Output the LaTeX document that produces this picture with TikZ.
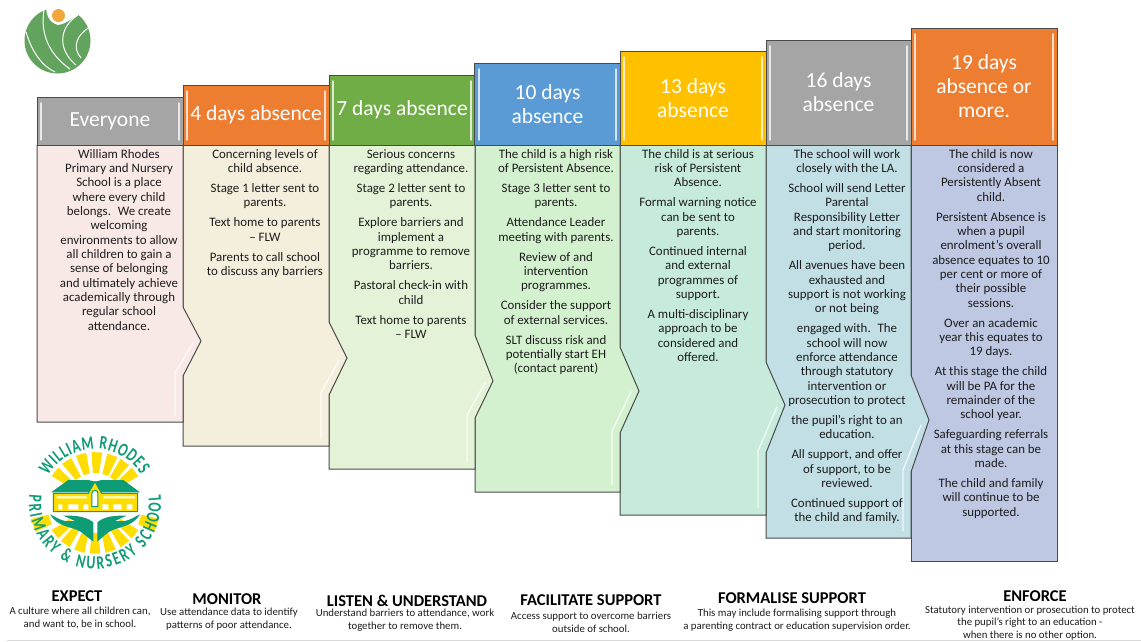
\documentclass[tikz,border=0pt]{standalone}
\usepackage{fontspec}
\setmainfont{Carlito}
\newfontfamily\badgefont[FakeStretch=0.72]{Carlito}
\usetikzlibrary{decorations.text}
\newcommand{\pgap}{\\[5.7pt]}
\tikzset{
  headbox/.style={draw=cedge,line width=1pt,minimum width=146pt,inner sep=0pt,text=white,align=center,font=\fontsize{21.5}{24}\selectfont},
  bodybox/.style={draw=cedge,line width=1pt,line join=miter},
  bevel/.style={white,line width=1.4pt,opacity=0.75,line cap=round,line join=round},
  bodytext/.style={anchor=north,inner sep=0pt,align=center,text=ctext,font=\fontsize{12.9}{14.33}\selectfont},
  foottitle/.style={inner sep=0pt,align=center,text=black,font=\bfseries\fontsize{16.5}{18}\selectfont},
  footsub/.style={inner sep=0pt,align=center,text=ctext,font=\fontsize{10.8}{12.7}\selectfont},
  badgeray/.style={fill=cray},
}
\begin{document}
\begin{tikzpicture}[x=1pt,y=-1pt]
%
\useasboundingbox (0,0) rectangle (1141,641);
%
\definecolor{cedge}{HTML}{4A4A4A}
\definecolor{ctext}{HTML}{1C1C1C}
\definecolor{ch0}{HTML}{A5A5A5}
\definecolor{ch1}{HTML}{ED7D31}
\definecolor{ch2}{HTML}{70AD47}
\definecolor{ch3}{HTML}{5B9BD5}
\definecolor{ch4}{HTML}{FFC000}
\definecolor{ch5}{HTML}{A5A5A5}
\definecolor{ch6}{HTML}{ED7D31}
\definecolor{cb0}{HTML}{F9E9E6}
\definecolor{cb1}{HTML}{F4EFDC}
\definecolor{cb2}{HTML}{E4F3D8}
\definecolor{cb3}{HTML}{D3F1CF}
\definecolor{cb4}{HTML}{C6EBDA}
\definecolor{cb5}{HTML}{C2DFE6}
\definecolor{cb6}{HTML}{BEC8E3}
\definecolor{cleaf}{HTML}{62A35E}
\definecolor{cdot}{HTML}{F2A73B}
\definecolor{cgreen}{HTML}{0E9C77}
\definecolor{cray}{HTML}{FFDD00}
%
% bodies, last one first so that each point lies over the next column
\draw[bodybox,fill=cb6] (911,145) -- (1057,145) -- (1057,561) -- (911,561) -- cycle;
\draw[bodybox,fill=cb5] (766,145) -- (911,145) -- (911,375) -- (929,420) -- (911,472) -- (911,538) -- (766,538) -- cycle;
\draw[bodybox,fill=cb4] (620,145) -- (766,145) -- (766,362) -- (785,405) -- (766,453) -- (766,515) -- (620,515) -- cycle;
\draw[bodybox,fill=cb3] (475,145) -- (620,145) -- (620,347) -- (639,391) -- (620,433) -- (620,492) -- (475,492) -- cycle;
\draw[bodybox,fill=cb2] (329,145) -- (475,145) -- (475,335) -- (493,381) -- (475,418) -- (475,469) -- (329,469) -- cycle;
\draw[bodybox,fill=cb1] (183,145) -- (329,145) -- (329,322) -- (347,358) -- (329,395) -- (329,446) -- (183,446) -- cycle;
\draw[bodybox,fill=cb0] (37,145) -- (183,145) -- (183,307) -- (201,341) -- (183,376) -- (183,422) -- (37,422) -- cycle;
%
\draw[bevel] (193,343) -- (175,373) -- (175,415);
\draw[bevel] (339,360) -- (321,393) -- (321,439);
\draw[bevel] (485,383) -- (467,415) -- (467,462);
\draw[bevel] (631,392) -- (612,431) -- (612,485);
\draw[bevel] (777,407) -- (758,451) -- (758,508);
\draw[bevel] (921,425) -- (903,470) -- (903,531);
%
\node (h0) [headbox,fill=ch0,minimum height=48pt] at (110,121) {Everyone};
\node (h1) [headbox,fill=ch1,minimum height=60pt] at (256,115) {4 days absence};
\node (h2) [headbox,fill=ch2,minimum height=70pt] at (402,110) {7 days absence};
\node (h3) [headbox,fill=ch3,minimum height=82pt] at (547.5,104) {10 days\\absence};
\node (h4) [headbox,fill=ch4,minimum height=94pt] at (693,98) {13 days\\absence};
\node (h5) [headbox,fill=ch5,minimum height=105pt,minimum width=145pt] at (838.5,92.5) {16 days\\absence};
\node (h6) [headbox,fill=ch6,minimum height=117pt] at (984,86.5) {19 days\\absence or\\more.};
%
\draw[bevel] (41,103) -- (41,140) (179,103) -- (179,140);
\draw[bevel] (187,91) -- (187,140) (325,91) -- (325,140);
\draw[bevel] (333,81) -- (333,140) (471,81) -- (471,140);
\draw[bevel] (479,69) -- (479,140) (616,69) -- (616,140);
\draw[bevel] (624,57) -- (624,140) (762,57) -- (762,140);
\draw[bevel] (770,46) -- (770,140) (907,46) -- (907,140);
\draw[bevel] (915,34) -- (915,140) (1053,34) -- (1053,140);
%
\node (t0) [bodytext] at (119,149) {William Rhodes\\Primary and Nursery\\School is a place\\where every child\\belongs.~ We create\\welcoming\\environments to allow\\all children to gain a\\sense of belonging\\and ultimately achieve\\academically through\\regular school\\attendance.};
\node (t1) [bodytext] at (265,149) {Concerning levels of\\child absence.\pgap Stage 1 letter sent to\\parents.\pgap Text home to parents\\– FLW\pgap Parents to call school\\to discuss any barriers};
\node (t2) [bodytext] at (411,149) {Serious concerns\\regarding attendance.\pgap Stage 2 letter sent to\\parents.\pgap Explore barriers and\\implement a\\programme to remove\\barriers.\pgap Pastoral check-in with\\child\pgap Text home to parents\\– FLW};
\node (t3) [bodytext] at (556,149) {The child is a high risk\\of Persistent Absence.\pgap Stage 3 letter sent to\\parents.\pgap Attendance Leader\\meeting with parents.\pgap Review of and\\intervention\\programmes.\pgap Consider the support\\of external services.\pgap SLT discuss risk and\\potentially start EH\\(contact parent)};
\node (t4) [bodytext] at (698,149) {The child is at serious\\risk of Persistent\\Absence.\pgap Formal warning notice\\can be sent to\\parents.\pgap Continued internal\\and external\\programmes of\\support.\pgap A multi-disciplinary\\approach to be\\considered and\\offered.};
\node (t5) [bodytext] at (847,149) {The school will work\\closely with the LA.\pgap School will send Letter\\Parental\\Responsibility Letter\\and start monitoring\\period.\pgap All avenues have been\\exhausted and\\support is not working\\or not being\pgap engaged with.~ The\\school will now\\enforce attendance\\through statutory\\intervention or\\prosecution to protect\pgap the pupil’s right to an\\education.\pgap All support, and offer\\of support, to be\\reviewed.\pgap Continued support of\\the child and family.};
\node (t6) [bodytext] at (991,149) {The child is now\\considered a\\Persistently Absent\\child.\pgap Persistent Absence is\\when a pupil\\enrolment’s overall\\absence equates to 10\\per cent or more of\\their possible\\sessions.\pgap Over an academic\\year this equates to\\19 days.\pgap At this stage the child\\will be PA for the\\remainder of the\\school year.\pgap Safeguarding referrals\\at this stage can be\\made.\pgap The child and family\\will continue to be\\supported.};
%
\node (n0) [foottitle] at (77,596) {EXPECT};
\node (s0) [footsub] at (80,618) {A culture where all children can,\\and want to, be in school.};
\node (n1) [foottitle] at (227,599) {MONITOR};
\node (s1) [footsub] at (229,619) {Use attendance data to identify\\patterns of poor attendance.};
\node (n2) [foottitle] at (407,601) {LISTEN \& UNDERSTAND};
\node (s2) [footsub] at (405,620) {Understand barriers to attendance, work\\together to remove them.};
\node (n3) [foottitle] at (591,600) {FACILITATE SUPPORT};
\node (s3) [footsub] at (591,622) {Access support to overcome barriers\\outside of school.};
\node (n4) [foottitle] at (792,598) {FORMALISE SUPPORT};
\node (s4) [footsub] at (797,620) {This may include formalising support through\\a parenting contract or education supervision order.};
\node (n5) [foottitle] at (1035,596) {ENFORCE};
\node (s5) [footsub] at (1030,623) {Statutory intervention or prosecution to protect\\the pupil’s right to an education -\\when there is no other option.};
%
\draw[black!15,line width=1pt] (7,640) -- (1141,640);
%
% top logo
\fill[cleaf] (57.5,40.5) circle (33);
\fill[white] (46,4) .. controls (46,14) and (48,22) .. (58,25) .. controls (66,24) and (72,18) .. (80,14) -- (80,4) -- cycle;
\fill[cdot] (58.5,15.5) circle (6.5);
\draw[white,line width=1pt] (26,32) .. controls (32,52) and (42,66) .. (55,72);
\draw[white,line width=1pt] (44,10) .. controls (40,35) and (50,55) .. (70,69);
\draw[white,line width=1pt] (78,15) .. controls (58,28) and (58,50) .. (76,65);
\draw[white,line width=1pt] (90,27) .. controls (76,35) and (72,48) .. (81,58);
%
% school badge
\begin{scope}[shift={(95,503)}]
\foreach \a in {38,54,72,90,108,126,142,218,236,254,272,290,306,322}
  \fill[badgeray] (\a-6:30) -- (\a-6:51) -- (\a+6:51) -- (\a+6:30) -- cycle;
\fill[badgeray] (14:48) -- (14:66) -- (26:66) -- (26:48) -- cycle;
\fill[badgeray] (154:48) -- (154:66) -- (166:66) -- (166:48) -- cycle;
\path[decorate,decoration={text along path,text align=fit to path,text={|\badgefont\bfseries\fontsize{19}{19}\selectfont\color{cgreen}|WILLIAM RHODES}}]
  (-150:54) arc[start angle=-150,end angle=-32,radius=54];
\path[decorate,decoration={text along path,text align=fit to path,text={|\badgefont\bfseries\fontsize{19}{19}\selectfont\color{cgreen}|PRIMARY {\&} NURSERY SCHOOL}}]
  (-173:66) arc[start angle=-173,end angle=-367,radius=66];
\end{scope}
\begin{scope}[shift={(25,435)},scale=1/3]
\fill[cgreen] (78,172) -- (130,135) -- (190,135) -- (210,140) -- (230,135) -- (295,135) -- (345,172) -- cycle;
\fill[cray,draw=cgreen,line width=1pt] (85,175) -- (190,175) -- (210,140) -- (230,175) -- (338,175) -- (338,230) -- (85,230) -- cycle;
\fill[white] (100,208) rectangle (112,224) (130,208) rectangle (160,224) (175,208) rectangle (190,224) (232,208) rectangle (250,224) (265,208) rectangle (290,224) (305,208) rectangle (322,224);
\fill[white] (95,184) rectangle (185,190) (235,184) rectangle (330,190);
\fill[white,draw=cgreen,line width=1pt] (201,215) -- (201,175) arc[start angle=-180,end angle=0,radius=9] -- (219,215) -- cycle;
\fill[cgreen] (75,238) .. controls (105,285) and (150,270) .. (180,300) -- (205,320) -- (205,262) .. controls (190,250) and (165,240) .. (115,242) -- (150,258) -- (120,258) .. controls (105,255) and (90,245) .. (75,238) -- cycle;
\fill[cgreen] (345,238) .. controls (315,285) and (270,270) .. (240,300) -- (217,320) -- (217,262) .. controls (230,250) and (255,240) .. (305,242) -- (270,258) -- (300,258) .. controls (315,255) and (330,245) .. (345,238) -- cycle;
\end{scope}
%
\end{tikzpicture}
\end{document}
